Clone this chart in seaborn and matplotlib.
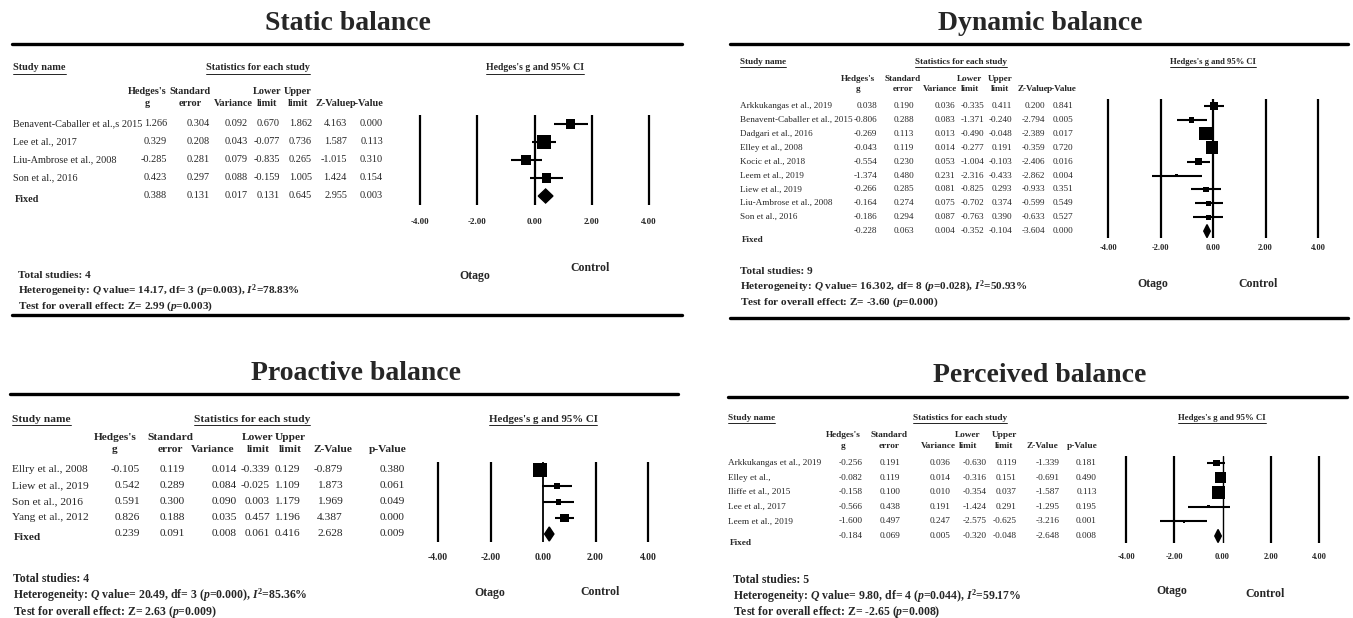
import numpy as np
import pandas as pd
import matplotlib
matplotlib.use("Agg")
import matplotlib.pyplot as plt
import seaborn as sns

W, H = 1353, 618

# ---------------- data ----------------
# static balance
static_names = ["Benavent-Caballer et al.,s 2015", "Lee et al., 2017", "Liu-Ambrose et al., 2008", "Son et al., 2016"]
static_g = [1.266, 0.329, -0.285, 0.423]
static_se = [0.304, 0.208, 0.281, 0.297]
static_var = [0.092, 0.043, 0.079, 0.088]
static_lo = [0.670, -0.077, -0.835, -0.159]
static_hi = [1.862, 0.736, 0.265, 1.005]
static_z = [4.163, 1.587, -1.015, 1.424]
static_p = [0.000, 0.113, 0.310, 0.154]
static_fixed = [0.388, 0.131, 0.017, 0.131, 0.645, 2.955, 0.003]
static_het = ["14.17", "3", "0.003", "78.83"]
static_overall = ["2.99", "0.003"]

# dynamic balance
dyn_names = ["Arkkukangas et al., 2019", "Benavent-Caballer et al., 2015", "Dadgari et al., 2016",
             "Elley et al., 2008", "Kocic et al., 2018", "Leem et al., 2019", "Liew et al., 2019",
             "Liu-Ambrose et al., 2008", "Son et al., 2016"]
dyn_g = [0.038, -0.806, -0.269, -0.043, -0.554, -1.374, -0.266, -0.164, -0.186]
dyn_se = [0.190, 0.288, 0.113, 0.119, 0.230, 0.480, 0.285, 0.274, 0.294]
dyn_var = [0.036, 0.083, 0.013, 0.014, 0.053, 0.231, 0.081, 0.075, 0.087]
dyn_lo = [-0.335, -1.371, -0.490, -0.277, -1.004, -2.316, -0.825, -0.702, -0.763]
dyn_hi = [0.411, -0.240, -0.048, 0.191, -0.103, -0.433, 0.293, 0.374, 0.390]
dyn_z = [0.200, -2.794, -2.389, -0.359, -2.406, -2.862, -0.933, -0.599, -0.633]
dyn_p = [0.841, 0.005, 0.017, 0.720, 0.016, 0.004, 0.351, 0.549, 0.527]
dyn_fixed = [-0.228, 0.063, 0.004, -0.352, -0.104, -3.604, 0.000]
dyn_het = ["16.302", "8", "0.028", "50.93"]
dyn_overall = ["-3.60", "0.000"]

# proactive balance
pro_names = ["Ellry et al., 2008", "Liew et al., 2019", "Son et al., 2016", "Yang et al., 2012"]
pro_g = [-0.105, 0.542, 0.591, 0.826]
pro_se = [0.119, 0.289, 0.300, 0.188]
pro_var = [0.014, 0.084, 0.090, 0.035]
pro_lo = [-0.339, -0.025, 0.003, 0.457]
pro_hi = [0.129, 1.109, 1.179, 1.196]
pro_z = [-0.879, 1.873, 1.969, 4.387]
pro_p = [0.380, 0.061, 0.049, 0.000]
pro_fixed = [0.239, 0.091, 0.008, 0.061, 0.416, 2.628, 0.009]
pro_het = ["20.49", "3", "0.000", "85.36"]
pro_overall = ["2.63", "0.009"]

# perceived balance
per_names = ["Arkkukangas et al., 2019", "Elley et al.,", "Iliffe et al., 2015", "Lee et al., 2017", "Leem et al., 2019"]
per_g = [-0.256, -0.082, -0.158, -0.566, -1.600]
per_se = [0.191, 0.119, 0.100, 0.438, 0.497]
per_var = [0.036, 0.014, 0.010, 0.191, 0.247]
per_lo = [-0.630, -0.316, -0.354, -1.424, -2.575]
per_hi = [0.119, 0.151, 0.037, 0.291, -0.625]
per_z = [-1.339, -0.691, -1.587, -1.295, -3.216]
per_p = [0.181, 0.490, 0.113, 0.195, 0.001]
per_fixed = [-0.184, 0.069, 0.005, -0.320, -0.048, -2.648, 0.008]
per_het = ["9.80", "4", "0.044", "59.17"]
per_overall = ["-2.65", "0.008"]

tick_vals = [-4, -2, 0, 2, 4]
tick_labels = ["-4.00", "-2.00", "0.00", "2.00", "4.00"]
col_heads = [("Hedges's", "g"), ("Standard", "error"), ("", "Variance"), ("Lower", "limit"),
             ("Upper", "limit"), ("", "Z-Value"), ("", "p-Value")]

# ---------------- style ----------------
sns.set_style("white")
plt.rcParams['font.family'] = ['Liberation Serif', 'DejaVu Serif']
plt.rcParams['mathtext.fontset'] = 'custom'
plt.rcParams['mathtext.rm'] = 'Liberation Serif:bold'
plt.rcParams['mathtext.it'] = 'Liberation Serif:italic:bold'
plt.rcParams['mathtext.bf'] = 'Liberation Serif:bold'

fig = plt.figure(figsize=(W / 100, H / 100), dpi=100)
ov = fig.add_axes([0, 0, 1, 1])
ov.set_xlim(0, W)
ov.set_ylim(H, 0)
ov.axis('off')

underlined = []


def draw_panel(title, names, g, se, var, lo, hi, z, p, fixed, het, overall, lay):
    n = len(names)
    fs = lay['fs']
    # title and rules
    ov.text(lay['title_x'], lay['title_y'], title, ha='center', va='center', fontsize=lay['title_fs'], fontweight='bold')
    ov.plot([lay['x0'], lay['x1']], [lay['top_y'], lay['top_y']], color='black', lw=2.4)
    if lay.get('bot_y'):
        ov.plot([lay['x0'], lay['x1']], [lay['bot_y'], lay['bot_y']], color='black', lw=2.4)

    # section headers
    sy = lay['sec_y']
    underlined.append(ov.text(lay['name_x'], sy, "Study name", ha='left', va='center', fontsize=fs, fontweight='bold'))
    underlined.append(ov.text(lay['stats_x'], sy, "Statistics for each study", ha='center', va='center', fontsize=fs, fontweight='bold'))
    underlined.append(ov.text(lay['ci_x'], sy, "Hedges's g and 95% CI", ha='center', va='center', fontsize=fs - 0.4, fontweight='bold'))

    # column headers
    for (h1, h2), hx in zip(col_heads, lay['head_x']):
        if h1:
            ov.text(hx, lay['head_y'][0], h1, ha='center', va='center', fontsize=fs, fontweight='bold')
        ov.text(hx, lay['head_y'][1], h2, ha='center', va='center', fontsize=fs, fontweight='bold')

    # table rows
    cols = [g, se, var, lo, hi, z, p]
    for i in range(n):
        ry = lay['row_y0'] + i * lay['row_dy']
        ov.text(lay['name_x'], ry, names[i], ha='left', va='center', fontsize=fs)
        for c, rx in zip(cols, lay['col_r']):
            ov.text(rx, ry, f"{c[i]:.3f}", ha='right', va='center', fontsize=fs)
    fy = lay['row_y0'] + n * lay['row_dy']
    ov.text(lay['name_x'] + 2, fy + lay['fixed_dy'], "Fixed", ha='left', va='center', fontsize=fs, fontweight='bold')
    for v, rx in zip(fixed, lay['col_r']):
        ov.text(rx, fy, f"{v:.3f}", ha='right', va='center', fontsize=fs)

    # footer
    fx0 = lay['foot_x']
    ffs = lay['foot_fs']
    ov.text(fx0, lay['foot_y'][0], f"Total studies: {n}", ha='left', va='center', fontsize=ffs, fontweight='bold')
    ov.text(fx0, lay['foot_y'][1],
            f"Heterogeneity: $Q$ value= {het[0]}, df= {het[1]} ($p$={het[2]}), $I^2$={het[3]}%",
            ha='left', va='center', fontsize=ffs, fontweight='bold')
    ov.text(fx0, lay['foot_y'][2], f"Test for overall effect: Z= {overall[0]} ($p$={overall[1]})",
            ha='left', va='center', fontsize=ffs, fontweight='bold')

    # Otago / Control
    ov.text(*lay['otago'], "Otago", ha='center', va='center', fontsize=lay['oc_fs'], fontweight='bold')
    ov.text(*lay['control'], "Control", ha='center', va='center', fontsize=lay['oc_fs'], fontweight='bold')

    # forest plot axes
    px4, pxp4 = lay['fx']
    scale = (pxp4 - px4) / 8.0
    pad = 0.6
    left = px4 - pad * scale
    width = (8 + 2 * pad) * scale
    top = lay['row_y0'] - 0.5 * lay['row_dy']
    bottom = lay['row_y0'] + (n + 0.5) * lay['row_dy']
    ax = fig.add_axes([left / W, 1 - bottom / H, width / W, (bottom - top) / H])
    ax.set_facecolor('none')
    ax.set_xlim(-4 - pad, 4 + pad)
    ax.set_ylim(n + 0.5, -0.5)
    for t in tick_vals:
        ax.axvline(t, color='black', lw=lay['grid_lw'] if t != 0 else lay['zero_lw'], zorder=1)
    rows = np.arange(n)
    ax.hlines(rows, lo, hi, color='black', lw=1.5, zorder=2)
    df = pd.DataFrame({'g': g, 'row': rows, 'w': 1.0 / np.array(var)})
    sns.scatterplot(data=df, x='g', y='row', size='w', sizes=(0, lay['smax']), size_norm=(0, df['w'].max()),
                    marker='s', color='black', edgecolor='black', linewidth=0, legend=False, zorder=3, ax=ax)
    dh = lay['dia_h'] / lay['row_dy']
    ax.fill([fixed[3], fixed[0], fixed[4], fixed[0]], [n, n - dh, n, n + dh], color='black', zorder=3)
    ax.set_xticks(tick_vals)
    ax.set_xticklabels(tick_labels, fontsize=lay['tick_fs'], fontweight='bold')
    ax.tick_params(axis='x', length=0, pad=(lay['tick_y'] - bottom - 4) * 0.72)
    ax.set_yticks([])
    ax.set_xlabel('')
    ax.set_ylabel('')
    for s in ax.spines.values():
        s.set_visible(False)


lay_static = dict(title_x=348, title_y=23, title_fs=20, x0=12, x1=682, top_y=44, bot_y=315,
                  sec_y=68, name_x=13, stats_x=258, ci_x=535, fs=7.4,
                  head_y=(92, 103), head_x=[147, 190, 233, 267, 298, 333, 367],
                  col_r=[167, 210, 248, 280, 312, 347, 383],
                  row_y0=124, row_dy=18, fixed_dy=3,
                  fx=(420, 649), tick_y=222, tick_fs=6.5, grid_lw=1.6, zero_lw=1.6, smax=100, dia_h=7,
                  otago=(475, 276), control=(590, 268), oc_fs=8.5,
                  foot_x=18, foot_y=(275, 290.5, 306), foot_fs=8.1)

lay_dyn = dict(title_x=1040, title_y=23, title_fs=20, x0=730, x1=1348, top_y=44, bot_y=318,
               sec_y=62, name_x=740, stats_x=961, ci_x=1213, fs=6.6,
               head_y=(79, 89), head_x=[858, 903, 940, 970, 1000, 1033, 1062],
               col_r=[877, 914, 955, 984, 1012, 1045, 1073],
               row_y0=106, row_dy=13.9, fixed_dy=9,
               fx=(1108, 1318), tick_y=248, tick_fs=6, grid_lw=1.6, zero_lw=1.6, smax=90, dia_h=6.5,
               otago=(1153, 284), control=(1258, 284), oc_fs=8.5,
               foot_x=740, foot_y=(271, 286.5, 302), foot_fs=8.1)

lay_pro = dict(title_x=356, title_y=374, title_fs=20, x0=10, x1=678, top_y=394, bot_y=None,
               sec_y=419, name_x=12, stats_x=252, ci_x=543, fs=8.2,
               head_y=(438, 449), head_x=[115, 170, 213, 258, 290, 333, 388],
               col_r=[140, 185, 237, 270, 300, 343, 405],
               row_y0=470, row_dy=16, fixed_dy=4,
               fx=(438, 648), tick_y=557, tick_fs=7, grid_lw=1.6, zero_lw=1.3, smax=100, dia_h=7,
               otago=(490, 593), control=(600, 592), oc_fs=8.5,
               foot_x=13, foot_y=(579, 595.5, 611.5), foot_fs=8.5)

lay_per = dict(title_x=1040, title_y=375, title_fs=20, x0=728, x1=1347, top_y=397, bot_y=None,
               sec_y=418, name_x=728, stats_x=960, ci_x=1222, fs=6.7,
               head_y=(435, 446), head_x=[843, 889, 938, 968, 1004, 1042, 1082],
               col_r=[863, 900, 950, 987, 1017, 1060, 1097],
               row_y0=463, row_dy=14.6, fixed_dy=7,
               fx=(1126, 1319), tick_y=557, tick_fs=6, grid_lw=1.6, zero_lw=1.0, smax=90, dia_h=6.5,
               otago=(1172, 591), control=(1265, 594), oc_fs=8.5,
               foot_x=733, foot_y=(580, 596, 612), foot_fs=8.5)

draw_panel("Static balance", static_names, static_g, static_se, static_var, static_lo, static_hi,
           static_z, static_p, static_fixed, static_het, static_overall, lay_static)
draw_panel("Dynamic balance", dyn_names, dyn_g, dyn_se, dyn_var, dyn_lo, dyn_hi,
           dyn_z, dyn_p, dyn_fixed, dyn_het, dyn_overall, lay_dyn)
draw_panel("Proactive balance", pro_names, pro_g, pro_se, pro_var, pro_lo, pro_hi,
           pro_z, pro_p, pro_fixed, pro_het, pro_overall, lay_pro)
draw_panel("Perceived balance", per_names, per_g, per_se, per_var, per_lo, per_hi,
           per_z, per_p, per_fixed, per_het, per_overall, lay_per)

# underline the section headers
fig.canvas.draw()
renderer = fig.canvas.get_renderer()
inv = ov.transData.inverted()
for t in underlined:
    bb = t.get_window_extent(renderer)
    (xa, ya), (xb, yb) = inv.transform([[bb.x0, bb.y0], [bb.x1, bb.y0]])
    ov.plot([xa, xb], [ya + 1, yb + 1], color='black', lw=0.6)

fig.savefig("out.png", dpi=100)
